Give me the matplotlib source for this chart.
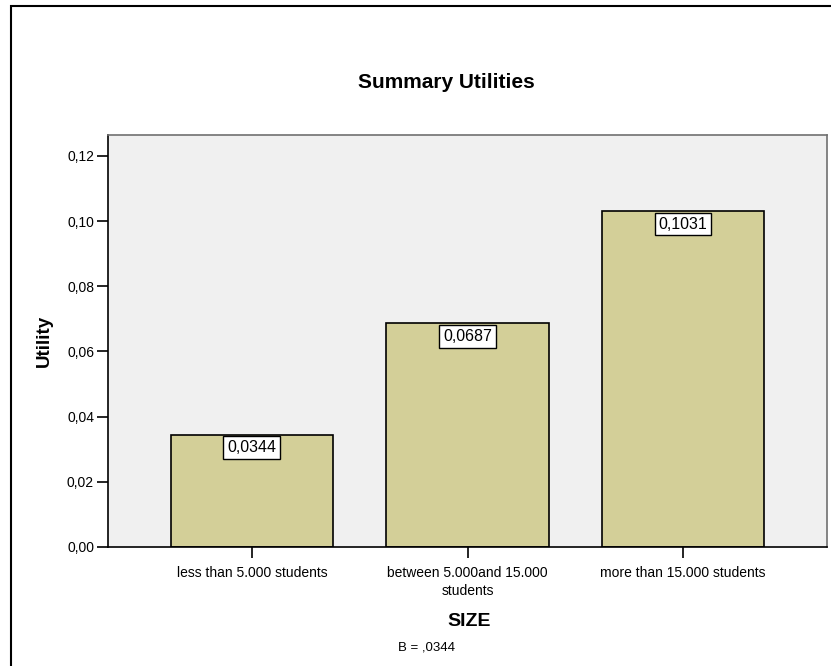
import matplotlib
matplotlib.use("Agg")
import matplotlib.pyplot as plt
from matplotlib.patches import Rectangle
from matplotlib.ticker import FuncFormatter

categories = [
    "less than 5.000 students",
    "between 5.000and 15.000\nstudents",
    "more than 15.000 students",
]
utilities = [0.0344, 0.0687, 0.1031]
value_labels = ["0,0344", "0,0687", "0,1031"]
y_ticks = [0.00, 0.02, 0.04, 0.06, 0.08, 0.10, 0.12]

plt.rcParams["font.family"] = ["Liberation Sans", "DejaVu Sans"]

fig = plt.figure(figsize=(8.31, 6.66), dpi=100)
ax = fig.add_axes([108 / 831, 1 - 547 / 666, (827 - 108) / 831, (547 - 135) / 666])
ax.set_facecolor("#f0f0f0")

xs = list(range(len(categories)))
ax.bar(xs, utilities, width=0.752, color="#d3cf98", edgecolor="black", linewidth=1.2, zorder=2)

for x, v, lab in zip(xs, utilities, value_labels):
    ax.annotate(lab, xy=(x, v), xytext=(0, -4), textcoords="offset points",
                ha="center", va="top", fontsize=11.5, zorder=3,
                bbox=dict(boxstyle="square,pad=0.25", fc="white", ec="black", lw=1))

ax.set_xlim(-0.668, 2.668)
ax.set_ylim(0, 0.1264)
ax.set_xticks(xs)
ax.set_xticklabels(categories, fontsize=10, linespacing=1.35)
ax.set_yticks(y_ticks)
ax.yaxis.set_major_formatter(FuncFormatter(lambda v, _: f"{v:.2f}".replace(".", ",")))
ax.tick_params(axis="y", labelsize=10, length=8, width=1.2, direction="out", pad=2)
ax.tick_params(axis="x", length=8, width=1.2, direction="out", pad=6)

for side in ("left", "bottom"):
    ax.spines[side].set_color("black")
    ax.spines[side].set_linewidth(1.2)
for side in ("top", "right"):
    ax.spines[side].set_color("#707070")
    ax.spines[side].set_linewidth(1.2)

ax.set_ylabel("Utility", fontsize=13.5, fontweight="bold", labelpad=10)
fig.text(446 / 831, 1 - 82 / 666, "Summary Utilities", ha="center", va="center",
         fontsize=15, fontweight="bold")
fig.text(469 / 831, 1 - 622 / 666, "SIZE", ha="center", va="center",
         fontsize=14, fontweight="bold")
fig.text(398 / 831, 1 - 648 / 666, "B = ,0344", ha="left", va="center", fontsize=9.5)

fig.add_artist(Rectangle((11 / 831, -0.1), 1.2, (666 - 6) / 666 + 0.1,
                         transform=fig.transFigure, fill=False, ec="black", lw=1.5))

fig.savefig("out.png", dpi=100)
